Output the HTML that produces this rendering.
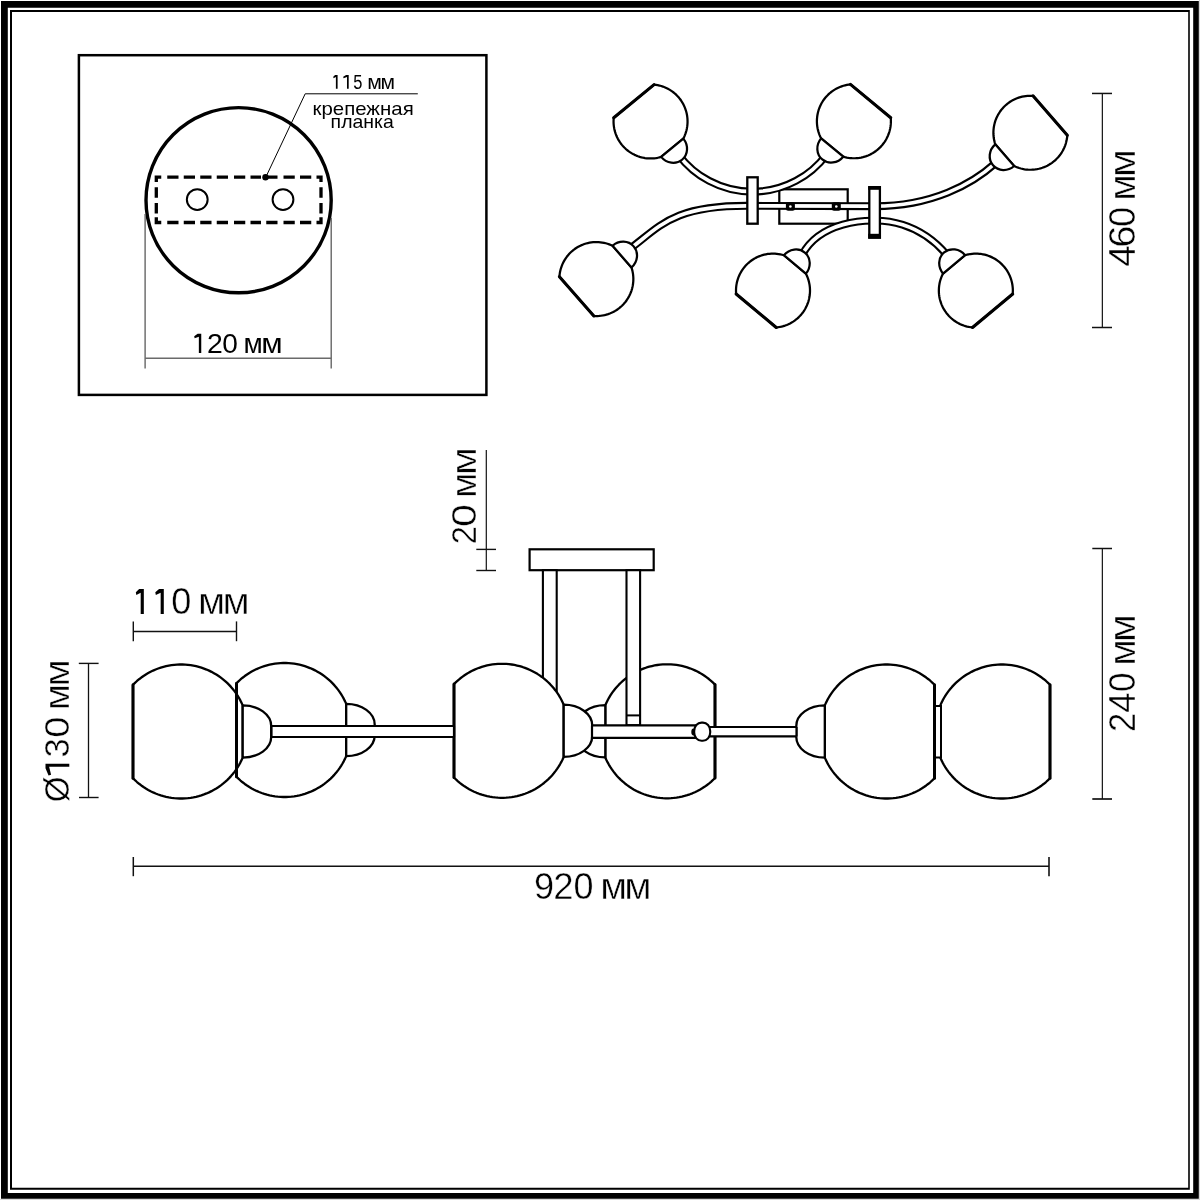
<!DOCTYPE html>
<html><head><meta charset="utf-8"><style>html,body{margin:0;padding:0;background:#fff;}svg{display:block;will-change:transform;}</style></head><body>
<svg width="1200" height="1200" viewBox="0 0 1200 1200" font-family='"Liberation Sans", sans-serif'>
<style>text{stroke:#fff;stroke-width:0.45px;}</style>
<rect width="1200" height="1200" fill="#fff"/>
<rect x="1199" y="0" width="1" height="1200" fill="#d8d8d8"/><rect x="0" y="1199" width="1200" height="1" fill="#d8d8d8"/>
<path d="M1 1H1198.8V1198.7H1ZM7.8 7.7V1193H1193.2V7.7Z" fill="#000" fill-rule="evenodd"/>
<path d="M10 10H1189.8V1189.8H10ZM12 12V1187.8H1188.2V12Z" fill="#000" fill-rule="evenodd"/>
<rect x="78.9" y="55.2" width="407.5" height="339.7" fill="none" stroke="#000" stroke-width="2.5"/>
<circle cx="238.6" cy="200.2" r="92.6" fill="none" stroke="#000" stroke-width="3.4"/>
<path d="M156.3 182V177.2H161.25 M316.5 177.2H321V182 M156.3 217.25V222.5H161.25 M316.5 222.5H321V217.25 M167.25 177.2H178.5 M167.25 222.5H178.5 M183.75 177.2H195 M183.75 222.5H195 M200.25 177.2H211.5 M200.25 222.5H211.5 M216.75 177.2H228 M216.75 222.5H228 M234 177.2H245.25 M234 222.5H245.25 M250.5 177.2H261 M250.5 222.5H261 M266.25 177.2H277.5 M266.25 222.5H277.5 M283.5 177.2H294.75 M283.5 222.5H294.75 M300 177.2H311.25 M300 222.5H311.25 M156.3 187.25V197.75 M321 187.25V197.75 M156.3 203V213.5 M321 203V213.5" fill="none" stroke="#000" stroke-width="3.3" stroke-linejoin="miter"/>
<circle cx="197.25" cy="199.55" r="10.4" fill="none" stroke="#000" stroke-width="2"/>
<circle cx="283" cy="199.55" r="10.4" fill="none" stroke="#000" stroke-width="2"/>
<circle cx="265.5" cy="177.3" r="3.2" fill="#000"/>
<polyline points="265.6,177.6 305.2,93.8 417.8,93.8" fill="none" stroke="#000" stroke-width="1"/>
<line x1="145.1" y1="214" x2="145.1" y2="368.6" stroke="#5a5a5a" stroke-width="1.3"/>
<line x1="331.2" y1="218" x2="331.2" y2="368.6" stroke="#5a5a5a" stroke-width="1.3"/>
<line x1="145.1" y1="358.2" x2="331.2" y2="358.2" stroke="#6a6a6a" stroke-width="1.6"/>
<rect x="779.3" y="189.3" width="68.4" height="34.4" fill="#fff" stroke="#000" stroke-width="2.2"/>
<path d="M678.55 154.83 A92.6 92.6 0 0 0 826.45 154.83" fill="none" stroke="#000" stroke-width="7.9"/>
<path d="M678.55 154.83 A92.6 92.6 0 0 0 826.45 154.83" fill="none" stroke="#fff" stroke-width="3.7"/>
<path d="M627.5 250.8 L631 248 C660.55 225.73 673.6 205.8 746.6 205.8 L875 206.2 C932 206.2 971.96 184.24 995 163.5 L998.3 160.5" fill="none" stroke="#000" stroke-width="7.9"/>
<path d="M627.5 250.8 L631 248 C660.55 225.73 673.6 205.8 746.6 205.8 L875 206.2 C932 206.2 971.96 184.24 995 163.5 L998.3 160.5" fill="none" stroke="#fff" stroke-width="3.7"/>
<path d="M799.9 259 L802 255 C821.25 218.8 871.5 220.6 874.5 220.6 C879.5 220.6 916.79 219 947 255 L949.9 258.5" fill="none" stroke="#000" stroke-width="7.9"/>
<path d="M799.9 259 L802 255 C821.25 218.8 871.5 220.6 874.5 220.6 C879.5 220.6 916.79 219 947 255 L949.9 258.5" fill="none" stroke="#fff" stroke-width="3.7"/>
<rect x="785.9" y="202.2" width="9" height="8.6" rx="2.2" fill="#000"/><circle cx="790.4" cy="206.5" r="1.3" fill="#fff"/>
<rect x="831.8" y="202.2" width="9" height="8.6" rx="2.2" fill="#000"/><circle cx="836.3" cy="206.5" r="1.3" fill="#fff"/>
<rect x="747.3" y="177.3" width="10.4" height="46.4" fill="#fff" stroke="#000" stroke-width="2.3"/>
<rect x="869.3" y="187.3" width="10.6" height="50.4" fill="#fff" stroke="#000" stroke-width="2.3"/>
<line x1="868.2" y1="187.9" x2="881" y2="187.9" stroke="#000" stroke-width="3.8"/>
<line x1="868.2" y1="236.1" x2="881" y2="236.1" stroke="#000" stroke-width="4.6"/>
<path d="M613.73 117.82 L613.59 119.63 L613.55 121.44 L613.59 123.25 L613.73 125.06 L613.95 126.85 L614.26 128.64 L614.65 130.41 L615.13 132.16 L615.7 133.88 L616.35 135.57 L617.08 137.23 L617.89 138.84 L618.78 140.42 L619.75 141.95 L620.79 143.44 L621.9 144.87 L623.09 146.24 L624.33 147.56 L625.64 148.81 L627.01 150 L628.44 151.11 L629.92 152.16 L631.44 153.14 L633.02 154.03 L634.63 154.85 L636.29 155.59 L637.98 156.25 L639.7 156.82 L641.44 157.31 L643.21 157.71 L644.99 158.03 L646.79 158.26 L648.6 158.4 L650.41 158.45 L652.22 158.41 L654.03 158.29 L655.82 158.07 L657.61 157.77 L659.38 157.38 L661.13 156.91 L683.31 138.66 L684.11 137.03 L684.83 135.37 L685.47 133.68 L686.03 131.95 L686.5 130.2 L686.89 128.43 L687.18 126.65 L687.39 124.85 L687.52 123.04 L687.55 121.23 L687.49 119.41 L687.35 117.61 L687.12 115.81 L686.8 114.03 L686.39 112.26 L685.9 110.52 L685.32 108.8 L684.66 107.11 L683.92 105.46 L683.09 103.85 L682.19 102.27 L681.22 100.75 L680.17 99.27 L679.05 97.85 L677.86 96.48 L676.6 95.18 L675.28 93.93 L673.91 92.75 L672.47 91.64 L670.99 90.61 L669.45 89.64 L667.87 88.76 L666.25 87.95 L664.59 87.22 L662.9 86.57 L661.18 86.01 L659.43 85.53 L657.66 85.14 L655.88 84.84 L654.08 84.62 Z" fill="#fff" stroke="#000" stroke-width="2.25" stroke-linejoin="round"/>
<line x1="613.73" y1="117.82" x2="654.08" y2="84.62" stroke="#000" stroke-width="3.1" stroke-linecap="round"/>
<path d="M661.13 156.91 C666.57 163.52 675.94 164.79 682.07 159.75 C688.19 154.71 688.74 145.27 683.31 138.66 Z" fill="#fff" stroke="#000" stroke-width="2.25" stroke-linejoin="round"/>
<path d="M850.47 84.41 L848.67 84.62 L846.88 84.92 L845.11 85.31 L843.36 85.78 L841.64 86.34 L839.95 86.98 L838.29 87.71 L836.66 88.51 L835.08 89.39 L833.54 90.35 L832.05 91.39 L830.62 92.49 L829.24 93.67 L827.92 94.91 L826.66 96.21 L825.47 97.57 L824.34 98.99 L823.29 100.47 L822.31 101.99 L821.4 103.56 L820.57 105.17 L819.83 106.82 L819.16 108.51 L818.58 110.23 L818.08 111.97 L817.67 113.73 L817.35 115.52 L817.11 117.31 L816.96 119.12 L816.9 120.93 L816.93 122.74 L817.05 124.55 L817.25 126.35 L817.55 128.14 L817.93 129.91 L818.39 131.66 L818.95 133.39 L819.58 135.08 L820.3 136.75 L821.1 138.37 L843.23 156.68 L844.98 157.16 L846.74 157.55 L848.53 157.86 L850.33 158.08 L852.14 158.21 L853.95 158.25 L855.76 158.2 L857.57 158.07 L859.36 157.84 L861.15 157.53 L862.92 157.13 L864.66 156.65 L866.38 156.08 L868.07 155.43 L869.73 154.69 L871.35 153.88 L872.92 152.99 L874.45 152.02 L875.94 150.97 L877.36 149.86 L878.74 148.68 L880.05 147.43 L881.3 146.11 L882.48 144.74 L883.6 143.32 L884.64 141.84 L885.62 140.31 L886.51 138.73 L887.33 137.11 L888.06 135.46 L888.72 133.77 L889.29 132.05 L889.78 130.3 L890.18 128.54 L890.49 126.75 L890.71 124.95 L890.85 123.15 L890.9 121.33 L890.86 119.52 L890.73 117.72 Z" fill="#fff" stroke="#000" stroke-width="2.25" stroke-linejoin="round"/>
<line x1="850.47" y1="84.41" x2="890.73" y2="117.72" stroke="#000" stroke-width="3.1" stroke-linecap="round"/>
<path d="M821.1 138.37 C815.64 144.97 816.17 154.41 822.28 159.47 C828.39 164.52 837.77 163.27 843.23 156.68 Z" fill="#fff" stroke="#000" stroke-width="2.25" stroke-linejoin="round"/>
<path d="M1032.97 95.84 L1031.16 95.76 L1029.35 95.76 L1027.54 95.86 L1025.73 96.05 L1023.94 96.32 L1022.17 96.68 L1020.41 97.12 L1018.68 97.66 L1016.98 98.27 L1015.3 98.97 L1013.67 99.75 L1012.07 100.61 L1010.52 101.54 L1009.02 102.55 L1007.56 103.64 L1006.17 104.79 L1004.83 106.01 L1003.55 107.29 L1002.33 108.64 L1001.19 110.04 L1000.11 111.5 L999.11 113.01 L998.18 114.56 L997.33 116.16 L996.55 117.8 L995.86 119.48 L995.25 121.18 L994.73 122.92 L994.29 124.68 L993.94 126.45 L993.68 128.25 L993.5 130.05 L993.41 131.86 L993.41 133.67 L993.5 135.48 L993.68 137.28 L993.94 139.08 L994.3 140.85 L994.74 142.61 L995.26 144.35 L1014.14 165.99 L1015.79 166.74 L1017.47 167.42 L1019.18 168.01 L1020.92 168.52 L1022.69 168.94 L1024.47 169.27 L1026.26 169.52 L1028.07 169.68 L1029.88 169.75 L1031.69 169.73 L1033.5 169.62 L1035.3 169.42 L1037.09 169.14 L1038.86 168.77 L1040.62 168.31 L1042.34 167.77 L1044.04 167.14 L1045.71 166.43 L1047.34 165.64 L1048.93 164.77 L1050.48 163.83 L1051.98 162.81 L1053.42 161.72 L1054.81 160.55 L1056.14 159.33 L1057.41 158.03 L1058.62 156.68 L1059.76 155.27 L1060.82 153.81 L1061.82 152.29 L1062.74 150.73 L1063.58 149.13 L1064.34 147.48 L1065.02 145.8 L1065.62 144.09 L1066.13 142.35 L1066.56 140.59 L1066.9 138.81 L1067.15 137.02 L1067.32 135.21 Z" fill="#fff" stroke="#000" stroke-width="2.25" stroke-linejoin="round"/>
<line x1="1032.97" y1="95.84" x2="1067.32" y2="135.21" stroke="#000" stroke-width="3.1" stroke-linecap="round"/>
<path d="M995.26 144.35 C988.81 149.97 987.81 159.38 993.02 165.36 C998.24 171.33 1007.69 171.61 1014.14 165.99 Z" fill="#fff" stroke="#000" stroke-width="2.25" stroke-linejoin="round"/>
<path d="M593.85 315.97 L595.66 316.04 L597.47 316.03 L599.28 315.93 L601.08 315.75 L602.87 315.47 L604.65 315.11 L606.4 314.66 L608.13 314.12 L609.83 313.51 L611.51 312.8 L613.14 312.02 L614.73 311.16 L616.28 310.22 L617.79 309.21 L619.24 308.12 L620.63 306.97 L621.97 305.74 L623.25 304.46 L624.46 303.11 L625.6 301.71 L626.68 300.25 L627.68 298.74 L628.6 297.18 L629.45 295.58 L630.22 293.94 L630.91 292.26 L631.52 290.55 L632.04 288.82 L632.47 287.06 L632.82 285.28 L633.08 283.49 L633.26 281.69 L633.34 279.88 L633.34 278.06 L633.24 276.25 L633.06 274.45 L632.79 272.66 L632.44 270.88 L631.99 269.13 L631.47 267.39 L612.55 245.78 L610.9 245.03 L609.22 244.36 L607.5 243.77 L605.76 243.27 L604 242.85 L602.22 242.52 L600.42 242.27 L598.62 242.12 L596.81 242.05 L595 242.07 L593.19 242.19 L591.39 242.38 L589.6 242.67 L587.82 243.05 L586.07 243.51 L584.34 244.05 L582.65 244.68 L580.98 245.39 L579.35 246.19 L577.76 247.06 L576.22 248.01 L574.72 249.03 L573.28 250.12 L571.89 251.29 L570.56 252.52 L569.29 253.81 L568.09 255.17 L566.95 256.58 L565.89 258.05 L564.9 259.56 L563.98 261.13 L563.14 262.73 L562.38 264.38 L561.71 266.06 L561.11 267.77 L560.6 269.51 L560.18 271.27 L559.84 273.05 L559.59 274.85 L559.43 276.65 Z" fill="#fff" stroke="#000" stroke-width="2.25" stroke-linejoin="round"/>
<line x1="593.85" y1="315.97" x2="559.43" y2="276.65" stroke="#000" stroke-width="3.1" stroke-linecap="round"/>
<path d="M631.47 267.39 C637.91 261.75 638.89 252.35 633.67 246.38 C628.45 240.41 618.99 240.15 612.55 245.78 Z" fill="#fff" stroke="#000" stroke-width="2.25" stroke-linejoin="round"/>
<path d="M776.24 327.46 L778.04 327.26 L779.83 326.96 L781.6 326.59 L783.35 326.12 L785.08 325.57 L786.77 324.94 L788.44 324.23 L790.07 323.43 L791.65 322.55 L793.2 321.6 L794.69 320.58 L796.13 319.48 L797.52 318.31 L798.84 317.08 L800.11 315.78 L801.31 314.42 L802.44 313.01 L803.5 311.54 L804.49 310.02 L805.41 308.46 L806.24 306.85 L807 305.2 L807.67 303.52 L808.26 301.81 L808.77 300.07 L809.19 298.31 L809.52 296.53 L809.77 294.73 L809.93 292.93 L810 291.11 L809.98 289.3 L809.87 287.49 L809.67 285.69 L809.39 283.9 L809.02 282.13 L808.56 280.38 L808.02 278.65 L807.39 276.95 L806.68 275.28 L805.89 273.65 L783.86 255.23 L782.11 254.74 L780.35 254.34 L778.56 254.02 L776.76 253.79 L774.96 253.65 L773.15 253.6 L771.34 253.64 L769.53 253.76 L767.73 253.98 L765.94 254.28 L764.17 254.67 L762.42 255.14 L760.7 255.7 L759.01 256.35 L757.35 257.07 L755.72 257.88 L754.14 258.77 L752.61 259.73 L751.12 260.76 L749.69 261.87 L748.31 263.05 L746.99 264.29 L745.73 265.59 L744.54 266.96 L743.42 268.38 L742.36 269.85 L741.38 271.38 L740.48 272.95 L739.66 274.56 L738.91 276.21 L738.25 277.9 L737.67 279.62 L737.17 281.36 L736.76 283.12 L736.44 284.91 L736.21 286.7 L736.06 288.51 L736 290.32 L736.03 292.13 L736.15 293.94 Z" fill="#fff" stroke="#000" stroke-width="2.25" stroke-linejoin="round"/>
<line x1="776.24" y1="327.46" x2="736.15" y2="293.94" stroke="#000" stroke-width="3.1" stroke-linecap="round"/>
<path d="M805.89 273.65 C811.38 267.08 810.9 257.64 804.82 252.55 C798.73 247.46 789.35 248.66 783.86 255.23 Z" fill="#fff" stroke="#000" stroke-width="2.25" stroke-linejoin="round"/>
<path d="M1012.69 294.04 L1012.81 292.23 L1012.85 290.42 L1012.8 288.61 L1012.65 286.8 L1012.42 285 L1012.11 283.22 L1011.7 281.45 L1011.21 279.71 L1010.64 277.99 L1009.98 276.3 L1009.24 274.65 L1008.41 273.03 L1007.52 271.46 L1006.54 269.93 L1005.49 268.46 L1004.37 267.03 L1003.18 265.66 L1001.93 264.36 L1000.61 263.11 L999.24 261.93 L997.81 260.82 L996.32 259.78 L994.79 258.82 L993.21 257.93 L991.59 257.12 L989.93 256.38 L988.24 255.74 L986.52 255.17 L984.77 254.69 L983 254.3 L981.22 253.99 L979.42 253.77 L977.61 253.64 L975.8 253.6 L973.99 253.65 L972.18 253.78 L970.38 254.01 L968.6 254.32 L966.83 254.72 L965.09 255.2 L943.01 273.56 L942.21 275.19 L941.5 276.86 L940.86 278.56 L940.32 280.28 L939.85 282.04 L939.48 283.81 L939.19 285.6 L938.99 287.4 L938.88 289.21 L938.85 291.02 L938.92 292.83 L939.07 294.63 L939.31 296.43 L939.64 298.21 L940.06 299.98 L940.56 301.72 L941.15 303.43 L941.82 305.11 L942.57 306.76 L943.4 308.37 L944.31 309.94 L945.29 311.46 L946.35 312.93 L947.48 314.35 L948.68 315.71 L949.94 317.01 L951.26 318.25 L952.64 319.42 L954.08 320.52 L955.57 321.55 L957.11 322.51 L958.7 323.38 L960.32 324.18 L961.99 324.9 L963.68 325.54 L965.41 326.1 L967.16 326.56 L968.93 326.95 L970.72 327.24 L972.52 327.45 Z" fill="#fff" stroke="#000" stroke-width="2.25" stroke-linejoin="round"/>
<line x1="1012.69" y1="294.04" x2="972.52" y2="327.45" stroke="#000" stroke-width="3.1" stroke-linecap="round"/>
<path d="M965.09 255.2 C959.61 248.62 950.23 247.39 944.13 252.47 C938.04 257.54 937.53 266.98 943.01 273.56 Z" fill="#fff" stroke="#000" stroke-width="2.25" stroke-linejoin="round"/>
<rect x="529.6" y="549.3" width="124.1" height="20.9" fill="#fff" stroke="#000" stroke-width="2.2"/>
<rect x="542.9" y="570.2" width="13.8" height="130" fill="#fff" stroke="#000" stroke-width="2.1"/>
<path d="M1050 684.76 L1048.04 682.83 L1046.01 680.98 L1043.9 679.22 L1041.72 677.54 L1039.47 675.96 L1037.16 674.47 L1034.8 673.08 L1032.37 671.78 L1029.9 670.58 L1027.38 669.49 L1024.81 668.5 L1022.21 667.62 L1019.57 666.85 L1016.91 666.18 L1014.21 665.62 L1011.5 665.18 L1008.77 664.84 L1006.04 664.62 L1003.29 664.51 L1000.54 664.52 L997.8 664.63 L995.06 664.86 L992.33 665.2 L989.62 665.65 L986.93 666.22 L984.26 666.89 L981.63 667.67 L979.03 668.56 L976.47 669.56 L973.95 670.65 L971.48 671.86 L969.06 673.16 L966.69 674.56 L964.39 676.05 L962.14 677.64 L959.97 679.32 L957.86 681.09 L955.83 682.94 L953.88 684.88 L952.01 686.89 L950.22 688.98 L948.52 691.14 L946.91 693.36 L945.4 695.65 L943.97 698.01 L942.65 700.41 L941.42 702.87 L940.3 705.38 L940.3 757.62 L941.42 760.13 L942.65 762.59 L943.97 764.99 L945.4 767.35 L946.91 769.64 L948.52 771.86 L950.22 774.02 L952.01 776.11 L953.88 778.12 L955.83 780.06 L957.86 781.91 L959.97 783.68 L962.14 785.36 L964.39 786.95 L966.69 788.44 L969.06 789.84 L971.48 791.14 L973.95 792.35 L976.47 793.44 L979.03 794.44 L981.63 795.33 L984.26 796.11 L986.93 796.78 L989.62 797.35 L992.33 797.8 L995.06 798.14 L997.8 798.37 L1000.54 798.48 L1003.29 798.49 L1006.04 798.38 L1008.77 798.16 L1011.5 797.82 L1014.21 797.38 L1016.91 796.82 L1019.57 796.15 L1022.21 795.38 L1024.81 794.5 L1027.38 793.51 L1029.9 792.42 L1032.37 791.22 L1034.8 789.92 L1037.16 788.53 L1039.47 787.04 L1041.72 785.46 L1043.9 783.78 L1046.01 782.02 L1048.04 780.17 L1050 778.24 Z" fill="#fff" stroke="#000" stroke-width="2.3" stroke-linejoin="round"/>
<line x1="1050" y1="684.76" x2="1050" y2="778.24" stroke="#000" stroke-width="3" stroke-linecap="round"/>
<path d="M934.5 684.76 L932.54 682.83 L930.51 680.98 L928.4 679.22 L926.22 677.54 L923.97 675.96 L921.66 674.47 L919.3 673.08 L916.87 671.78 L914.4 670.58 L911.88 669.49 L909.31 668.5 L906.71 667.62 L904.07 666.85 L901.41 666.18 L898.71 665.62 L896 665.18 L893.27 664.84 L890.54 664.62 L887.79 664.51 L885.04 664.52 L882.3 664.63 L879.56 664.86 L876.83 665.2 L874.12 665.65 L871.43 666.22 L868.76 666.89 L866.13 667.67 L863.53 668.56 L860.97 669.56 L858.45 670.65 L855.98 671.86 L853.56 673.16 L851.19 674.56 L848.89 676.05 L846.64 677.64 L844.47 679.32 L842.36 681.09 L840.33 682.94 L838.38 684.88 L836.51 686.89 L834.72 688.98 L833.02 691.14 L831.41 693.36 L829.9 695.65 L828.47 698.01 L827.15 700.41 L825.92 702.87 L824.8 705.38 L824.8 757.62 L825.92 760.13 L827.15 762.59 L828.47 764.99 L829.9 767.35 L831.41 769.64 L833.02 771.86 L834.72 774.02 L836.51 776.11 L838.38 778.12 L840.33 780.06 L842.36 781.91 L844.47 783.68 L846.64 785.36 L848.89 786.95 L851.19 788.44 L853.56 789.84 L855.98 791.14 L858.45 792.35 L860.97 793.44 L863.53 794.44 L866.13 795.33 L868.76 796.11 L871.43 796.78 L874.12 797.35 L876.83 797.8 L879.56 798.14 L882.3 798.37 L885.04 798.48 L887.79 798.49 L890.54 798.38 L893.27 798.16 L896 797.82 L898.71 797.38 L901.41 796.82 L904.07 796.15 L906.71 795.38 L909.31 794.5 L911.88 793.51 L914.4 792.42 L916.87 791.22 L919.3 789.92 L921.66 788.53 L923.97 787.04 L926.22 785.46 L928.4 783.78 L930.51 782.02 L932.54 780.17 L934.5 778.24 Z" fill="#fff" stroke="#000" stroke-width="2.3" stroke-linejoin="round"/>
<line x1="934.5" y1="684.76" x2="934.5" y2="778.24" stroke="#000" stroke-width="3" stroke-linecap="round"/>
<path d="M824.8 705.38 C809.06 705.38 796.3 714.61 796.3 726 L796.3 737 C796.3 748.39 809.06 757.62 824.8 757.62 Z" fill="#fff" stroke="#000" stroke-width="2.3" stroke-linejoin="round"/>
<rect x="935" y="706" width="6" height="51.5" fill="#fff" stroke="#000" stroke-width="2"/>
<path d="M715 684.56 L713.04 682.63 L711.01 680.78 L708.9 679.02 L706.72 677.34 L704.47 675.76 L702.16 674.27 L699.8 672.88 L697.37 671.58 L694.9 670.38 L692.38 669.29 L689.81 668.3 L687.21 667.42 L684.57 666.65 L681.91 665.98 L679.21 665.42 L676.5 664.98 L673.77 664.64 L671.04 664.42 L668.29 664.31 L665.54 664.32 L662.8 664.43 L660.06 664.66 L657.33 665 L654.62 665.45 L651.93 666.02 L649.26 666.69 L646.63 667.47 L644.03 668.36 L641.47 669.36 L638.95 670.45 L636.48 671.66 L634.06 672.96 L631.69 674.36 L629.39 675.85 L627.14 677.44 L624.97 679.12 L622.86 680.89 L620.83 682.74 L618.88 684.68 L617.01 686.69 L615.22 688.78 L613.52 690.94 L611.91 693.16 L610.4 695.45 L608.97 697.81 L607.65 700.21 L606.42 702.67 L605.3 705.18 L605.3 757.42 L606.42 759.93 L607.65 762.39 L608.97 764.79 L610.4 767.15 L611.91 769.44 L613.52 771.66 L615.22 773.82 L617.01 775.91 L618.88 777.92 L620.83 779.86 L622.86 781.71 L624.97 783.48 L627.14 785.16 L629.39 786.75 L631.69 788.24 L634.06 789.64 L636.48 790.94 L638.95 792.15 L641.47 793.24 L644.03 794.24 L646.63 795.13 L649.26 795.91 L651.93 796.58 L654.62 797.15 L657.33 797.6 L660.06 797.94 L662.8 798.17 L665.54 798.28 L668.29 798.29 L671.04 798.18 L673.77 797.96 L676.5 797.62 L679.21 797.18 L681.91 796.62 L684.57 795.95 L687.21 795.18 L689.81 794.3 L692.38 793.31 L694.9 792.22 L697.37 791.02 L699.8 789.72 L702.16 788.33 L704.47 786.84 L706.72 785.26 L708.9 783.58 L711.01 781.82 L713.04 779.97 L715 778.04 Z" fill="#fff" stroke="#000" stroke-width="2.3" stroke-linejoin="round"/>
<line x1="715" y1="684.56" x2="715" y2="778.04" stroke="#000" stroke-width="3" stroke-linecap="round"/>
<path d="M605.3 705.18 C589.56 705.18 576.8 714.41 576.8 725.8 L576.8 736.8 C576.8 748.19 589.56 757.42 605.3 757.42 Z" fill="#fff" stroke="#000" stroke-width="2.3" stroke-linejoin="round"/>
<rect x="626.5" y="570.2" width="13.6" height="155" fill="#fff" stroke="#000" stroke-width="2.1"/>
<line x1="626.5" y1="715.4" x2="640.1" y2="715.4" stroke="#000" stroke-width="2"/>
<path d="M454 684.06 L455.96 682.13 L457.99 680.28 L460.1 678.52 L462.28 676.84 L464.53 675.26 L466.84 673.77 L469.2 672.38 L471.63 671.08 L474.1 669.88 L476.62 668.79 L479.19 667.8 L481.79 666.92 L484.43 666.15 L487.09 665.48 L489.79 664.92 L492.5 664.48 L495.23 664.14 L497.96 663.92 L500.71 663.81 L503.46 663.82 L506.2 663.93 L508.94 664.16 L511.67 664.5 L514.38 664.95 L517.07 665.52 L519.74 666.19 L522.37 666.97 L524.97 667.86 L527.53 668.86 L530.05 669.95 L532.52 671.16 L534.94 672.46 L537.31 673.86 L539.61 675.35 L541.86 676.94 L544.03 678.62 L546.14 680.39 L548.17 682.24 L550.12 684.18 L551.99 686.19 L553.78 688.28 L555.48 690.44 L557.09 692.66 L558.6 694.95 L560.03 697.31 L561.35 699.71 L562.58 702.17 L563.7 704.68 L563.7 756.92 L562.58 759.43 L561.35 761.89 L560.03 764.29 L558.6 766.65 L557.09 768.94 L555.48 771.16 L553.78 773.32 L551.99 775.41 L550.12 777.42 L548.17 779.36 L546.14 781.21 L544.03 782.98 L541.86 784.66 L539.61 786.25 L537.31 787.74 L534.94 789.14 L532.52 790.44 L530.05 791.65 L527.53 792.74 L524.97 793.74 L522.37 794.63 L519.74 795.41 L517.07 796.08 L514.38 796.65 L511.67 797.1 L508.94 797.44 L506.2 797.67 L503.46 797.78 L500.71 797.79 L497.96 797.68 L495.23 797.46 L492.5 797.12 L489.79 796.68 L487.09 796.12 L484.43 795.45 L481.79 794.68 L479.19 793.8 L476.62 792.81 L474.1 791.72 L471.63 790.52 L469.2 789.22 L466.84 787.83 L464.53 786.34 L462.28 784.76 L460.1 783.08 L457.99 781.32 L455.96 779.47 L454 777.54 Z" fill="#fff" stroke="#000" stroke-width="2.3" stroke-linejoin="round"/>
<line x1="454" y1="684.06" x2="454" y2="777.54" stroke="#000" stroke-width="3" stroke-linecap="round"/>
<path d="M563.7 704.68 C579.44 704.68 592.2 713.91 592.2 725.3 L592.2 736.3 C592.2 747.69 579.44 756.92 563.7 756.92 Z" fill="#fff" stroke="#000" stroke-width="2.3" stroke-linejoin="round"/>
<rect x="592" y="725.4" width="106" height="12.5" fill="#fff"/>
<path d="M592 725.4H698 M592 737.9H698" stroke="#000" stroke-width="2.2" fill="none"/>
<path d="M592 725.4V737.9 M698 725.4V737.9" stroke="#000" stroke-width="2.2" fill="none"/>
<rect x="708" y="727" width="88.5" height="9.4" fill="#fff"/>
<path d="M708 727H796.5 M708 736.4H796.5" stroke="#000" stroke-width="2.2" fill="none"/>
<path d="M708 727V736.4 M796.5 727V736.4" stroke="#000" stroke-width="2.2" fill="none"/>
<ellipse cx="693.6" cy="732" rx="2.3" ry="3.4" fill="#000"/>
<rect x="694.2" y="722.6" width="16" height="18.2" rx="7.3" ry="8.3" fill="#fff" stroke="#000" stroke-width="2.1"/>
<path d="M236.5 683.26 L238.46 681.33 L240.49 679.48 L242.6 677.72 L244.78 676.04 L247.03 674.46 L249.34 672.97 L251.7 671.58 L254.13 670.28 L256.6 669.08 L259.12 667.99 L261.69 667 L264.29 666.12 L266.93 665.35 L269.59 664.68 L272.29 664.12 L275 663.68 L277.73 663.34 L280.46 663.12 L283.21 663.01 L285.96 663.02 L288.7 663.13 L291.44 663.36 L294.17 663.7 L296.88 664.15 L299.57 664.72 L302.24 665.39 L304.87 666.17 L307.47 667.06 L310.03 668.06 L312.55 669.15 L315.02 670.36 L317.44 671.66 L319.81 673.06 L322.11 674.55 L324.36 676.14 L326.53 677.82 L328.64 679.59 L330.67 681.44 L332.62 683.38 L334.49 685.39 L336.28 687.48 L337.98 689.64 L339.59 691.86 L341.1 694.15 L342.53 696.51 L343.85 698.91 L345.08 701.37 L346.2 703.88 L346.2 756.12 L345.08 758.63 L343.85 761.09 L342.53 763.49 L341.1 765.85 L339.59 768.14 L337.98 770.36 L336.28 772.52 L334.49 774.61 L332.62 776.62 L330.67 778.56 L328.64 780.41 L326.53 782.18 L324.36 783.86 L322.11 785.45 L319.81 786.94 L317.44 788.34 L315.02 789.64 L312.55 790.85 L310.03 791.94 L307.47 792.94 L304.87 793.83 L302.24 794.61 L299.57 795.28 L296.88 795.85 L294.17 796.3 L291.44 796.64 L288.7 796.87 L285.96 796.98 L283.21 796.99 L280.46 796.88 L277.73 796.66 L275 796.32 L272.29 795.88 L269.59 795.32 L266.93 794.65 L264.29 793.88 L261.69 793 L259.12 792.01 L256.6 790.92 L254.13 789.72 L251.7 788.42 L249.34 787.03 L247.03 785.54 L244.78 783.96 L242.6 782.28 L240.49 780.52 L238.46 778.67 L236.5 776.74 Z" fill="none" stroke="#000" stroke-width="2.3" stroke-linejoin="round"/>
<line x1="236.5" y1="683.26" x2="236.5" y2="776.74" stroke="#000" stroke-width="3" stroke-linecap="round"/>
<path d="M346.2 703.88 C361.94 703.88 374.7 713.11 374.7 724.5 L374.7 735.5 C374.7 746.89 361.94 756.12 346.2 756.12 Z" fill="#fff" stroke="#000" stroke-width="2.3" stroke-linejoin="round"/>
<path d="M133 684.76 L134.96 682.83 L136.99 680.98 L139.1 679.22 L141.28 677.54 L143.53 675.96 L145.84 674.47 L148.2 673.08 L150.63 671.78 L153.1 670.58 L155.62 669.49 L158.19 668.5 L160.79 667.62 L163.43 666.85 L166.09 666.18 L168.79 665.62 L171.5 665.18 L174.23 664.84 L176.96 664.62 L179.71 664.51 L182.46 664.52 L185.2 664.63 L187.94 664.86 L190.67 665.2 L193.38 665.65 L196.07 666.22 L198.74 666.89 L201.37 667.67 L203.97 668.56 L206.53 669.56 L209.05 670.65 L211.52 671.86 L213.94 673.16 L216.31 674.56 L218.61 676.05 L220.86 677.64 L223.03 679.32 L225.14 681.09 L227.17 682.94 L229.12 684.88 L230.99 686.89 L232.78 688.98 L234.48 691.14 L236.09 693.36 L237.6 695.65 L239.03 698.01 L240.35 700.41 L241.58 702.87 L242.7 705.38 L242.7 757.62 L241.58 760.13 L240.35 762.59 L239.03 764.99 L237.6 767.35 L236.09 769.64 L234.48 771.86 L232.78 774.02 L230.99 776.11 L229.12 778.12 L227.17 780.06 L225.14 781.91 L223.03 783.68 L220.86 785.36 L218.61 786.95 L216.31 788.44 L213.94 789.84 L211.52 791.14 L209.05 792.35 L206.53 793.44 L203.97 794.44 L201.37 795.33 L198.74 796.11 L196.07 796.78 L193.38 797.35 L190.67 797.8 L187.94 798.14 L185.2 798.37 L182.46 798.48 L179.71 798.49 L176.96 798.38 L174.23 798.16 L171.5 797.82 L168.79 797.38 L166.09 796.82 L163.43 796.15 L160.79 795.38 L158.19 794.5 L155.62 793.51 L153.1 792.42 L150.63 791.22 L148.2 789.92 L145.84 788.53 L143.53 787.04 L141.28 785.46 L139.1 783.78 L136.99 782.02 L134.96 780.17 L133 778.24 Z" fill="none" stroke="#000" stroke-width="2.3" stroke-linejoin="round"/>
<line x1="133" y1="684.76" x2="133" y2="778.24" stroke="#000" stroke-width="3" stroke-linecap="round"/>
<path d="M242.7 705.38 C258.44 705.38 271.2 714.61 271.2 726 L271.2 737 C271.2 748.39 258.44 757.62 242.7 757.62 Z" fill="#fff" stroke="#000" stroke-width="2.3" stroke-linejoin="round"/>
<rect x="271.5" y="726" width="182.5" height="11" fill="#fff"/>
<path d="M271.5 726H454 M271.5 737H454" stroke="#000" stroke-width="2.2" fill="none"/>
<path d="M271.5 726V737 M454 726V737" stroke="#000" stroke-width="2.2" fill="none"/>
<g transform="translate(0 88.67)"><path d="M335.89 -11.63 L335.89 0 L337.6 0 L337.6 -13.71 L335.03 -13.71 L333.25 -11.96 L333.52 -10.49 Z" fill="#000"/><path d="M346.99 -11.63 L346.99 0 L348.7 0 L348.7 -13.71 L346.13 -13.71 L343.2 -11.96 L343.54 -10.49 Z" fill="#000"/><text x="0" y="0" font-size="19.73" transform="translate(353.34 0) scale(0.8342 1)" style="stroke:none">5</text><text x="0" y="0" font-size="19.73" transform="translate(367.33 0) scale(1.0784 1)" style="stroke:none">м</text><text x="0" y="0" font-size="19.73" transform="translate(380.54 0) scale(1.0692 1)" style="stroke:none">м</text></g>
<text x="312.52" y="114.8" font-size="18.77" textLength="101.21" lengthAdjust="spacingAndGlyphs" style="stroke:none">крепежная</text>
<text x="330.64" y="128.4" font-size="18.77" textLength="63.14" lengthAdjust="spacingAndGlyphs" style="stroke:none">планка</text>
<g transform="translate(0 353)"><path d="M198.85 -16.28 L198.85 0 L201.25 0 L201.25 -19.2 L197.65 -19.2 L194.2 -16.74 L194.64 -14.69 Z" fill="#000"/><text x="0" y="0" font-size="27.63" transform="translate(206.88 0) scale(1.0280 1)" style="stroke:none">2</text><text x="0" y="0" font-size="27.63" transform="translate(222.21 0) scale(1.0148 1)" style="stroke:none">0</text><text x="0" y="0" font-size="27.63" transform="translate(243.47 0) scale(1.0135 1)" style="stroke:none">м</text><text x="0" y="0" font-size="27.63" transform="translate(261.15 0) scale(1.1254 1)" style="stroke:none">м</text></g>
<g transform="translate(0 614.1)"><path d="M140.69 -21.28 L140.69 0 L143.83 0 L143.83 -25.1 L139.12 -25.1 L135.83 -21.89 L136.33 -19.2 Z" fill="#000"/><path d="M160.66 -21.28 L160.66 0 L163.8 0 L163.8 -25.1 L159.09 -25.1 L155.3 -21.89 L155.83 -19.2 Z" fill="#000"/><text x="0" y="0" font-size="36.12" transform="translate(171.29 0) scale(1.0021 1)" style="stroke-width:0.45px">0</text><text x="0" y="0" font-size="36.12" transform="translate(198.08 0) scale(1.0925 1)" style="stroke-width:0.45px">м</text><text x="0" y="0" font-size="36.12" transform="translate(222.48 0) scale(1.0925 1)" style="stroke-width:0.45px">м</text></g>
<g transform="translate(0 898.7)"><text x="0" y="0" font-size="36.69" transform="translate(534 0) scale(0.9852 1)" style="stroke-width:0.46px">9</text><text x="0" y="0" font-size="36.69" transform="translate(553.17 0) scale(0.9982 1)" style="stroke-width:0.46px">2</text><text x="0" y="0" font-size="36.69" transform="translate(573.4 0) scale(0.9807 1)" style="stroke-width:0.46px">0</text><text x="0" y="0" font-size="36.69" transform="translate(600.22 0) scale(1.0605 1)" style="stroke-width:0.46px">м</text><text x="0" y="0" font-size="36.69" transform="translate(624.16 0) scale(1.0828 1)" style="stroke-width:0.46px">м</text></g>
<g transform="translate(1134.7 265.8) rotate(-90)"><text x="0" y="0" font-size="36.26" transform="translate(-0.89 0) scale(1.0671 1)" style="stroke-width:0.45px">4</text><text x="0" y="0" font-size="36.26" transform="translate(18.01 0) scale(1.1038 1)" style="stroke-width:0.45px">6</text><text x="0" y="0" font-size="36.26" transform="translate(38.69 0) scale(0.9982 1)" style="stroke-width:0.45px">0</text><text x="0" y="0" font-size="36.26" transform="translate(65.05 0) scale(1.0580 1)" style="stroke-width:0.45px">м</text><text x="0" y="0" font-size="36.26" transform="translate(88.76 0) scale(1.1157 1)" style="stroke-width:0.45px">м</text></g>
<g transform="translate(1134.7 730.25) rotate(-90)"><text x="0" y="0" font-size="36.69" transform="translate(-1.73 0) scale(0.9414 1)" style="stroke-width:0.46px">2</text><text x="0" y="0" font-size="36.69" transform="translate(17.61 0) scale(0.9950 1)" style="stroke-width:0.46px">4</text><text x="0" y="0" font-size="36.69" transform="translate(38.18 0) scale(0.9579 1)" style="stroke-width:0.46px">0</text><text x="0" y="0" font-size="36.69" transform="translate(64.5 0) scale(1.0456 1)" style="stroke-width:0.46px">м</text><text x="0" y="0" font-size="36.69" transform="translate(88.21 0) scale(1.1026 1)" style="stroke-width:0.46px">м</text></g>
<g transform="translate(476.1 542.6) rotate(-90)"><text x="0" y="0" font-size="35.97" transform="translate(-1.63 0) scale(0.9084 1)" style="stroke-width:0.45px">2</text><text x="0" y="0" font-size="35.97" transform="translate(15.49 0) scale(1.1457 1)" style="stroke-width:0.45px">0</text><text x="0" y="0" font-size="35.97" transform="translate(44.78 0) scale(1.0160 1)" style="stroke-width:0.45px">м</text><text x="0" y="0" font-size="35.97" transform="translate(67.7 0) scale(1.1272 1)" style="stroke-width:0.45px">м</text></g>
<g transform="translate(69.3 801) rotate(-90)"><text x="0" y="0" font-size="34.24" transform="translate(-1.16 0) scale(0.9679 1)" style="stroke-width:0.43px">Ø</text><path d="M34.27 -20.18 L34.27 0 L37.25 0 L37.25 -23.8 L32.79 -23.8 L25.4 -20.75 L26.14 -18.21 Z" fill="#000"/><text x="0" y="0" font-size="34.24" transform="translate(43.45 0) scale(1.0011 1)" style="stroke-width:0.43px">3</text><text x="0" y="0" font-size="34.24" transform="translate(63.27 0) scale(1.1088 1)" style="stroke-width:0.43px">0</text><text x="0" y="0" font-size="34.24" transform="translate(90.92 0) scale(1.0937 1)" style="stroke-width:0.43px">м</text><text x="0" y="0" font-size="34.24" transform="translate(114.51 0) scale(1.1601 1)" style="stroke-width:0.43px">м</text></g>
<line x1="1102.35" y1="93.45" x2="1102.35" y2="327.5" stroke="#111" stroke-width="1.2"/>
<line x1="1092" y1="93.45" x2="1112" y2="93.45" stroke="#111" stroke-width="1.5"/>
<line x1="1092" y1="327.5" x2="1112" y2="327.5" stroke="#111" stroke-width="1.5"/>
<line x1="486.3" y1="450" x2="486.3" y2="570.5" stroke="#111" stroke-width="1.2"/>
<line x1="476.3" y1="549.4" x2="496" y2="549.4" stroke="#111" stroke-width="1.4"/>
<line x1="476.3" y1="570.5" x2="496" y2="570.5" stroke="#111" stroke-width="1.4"/>
<line x1="1102.35" y1="548.5" x2="1102.35" y2="799" stroke="#111" stroke-width="1.2"/>
<line x1="1092.3" y1="548.5" x2="1112" y2="548.5" stroke="#111" stroke-width="1.5"/>
<line x1="1092.3" y1="799" x2="1112" y2="799" stroke="#111" stroke-width="1.7"/>
<line x1="133.3" y1="631.5" x2="236.5" y2="631.5" stroke="#111" stroke-width="1.4"/>
<line x1="133.3" y1="621.4" x2="133.3" y2="641.2" stroke="#111" stroke-width="1.4"/>
<line x1="236.5" y1="621.4" x2="236.5" y2="641.2" stroke="#111" stroke-width="1.4"/>
<line x1="88.5" y1="663.4" x2="88.5" y2="797.5" stroke="#111" stroke-width="1.3"/>
<line x1="78.8" y1="663.4" x2="98.6" y2="663.4" stroke="#111" stroke-width="1.4"/>
<line x1="79" y1="797.5" x2="98.6" y2="797.5" stroke="#111" stroke-width="1.4"/>
<line x1="133.3" y1="866.3" x2="1049" y2="866.3" stroke="#111" stroke-width="1.5"/>
<line x1="133.3" y1="857" x2="133.3" y2="876.2" stroke="#111" stroke-width="1.5"/>
<line x1="1049" y1="857" x2="1049" y2="876.2" stroke="#111" stroke-width="1.6"/>
</svg>
</body></html>
